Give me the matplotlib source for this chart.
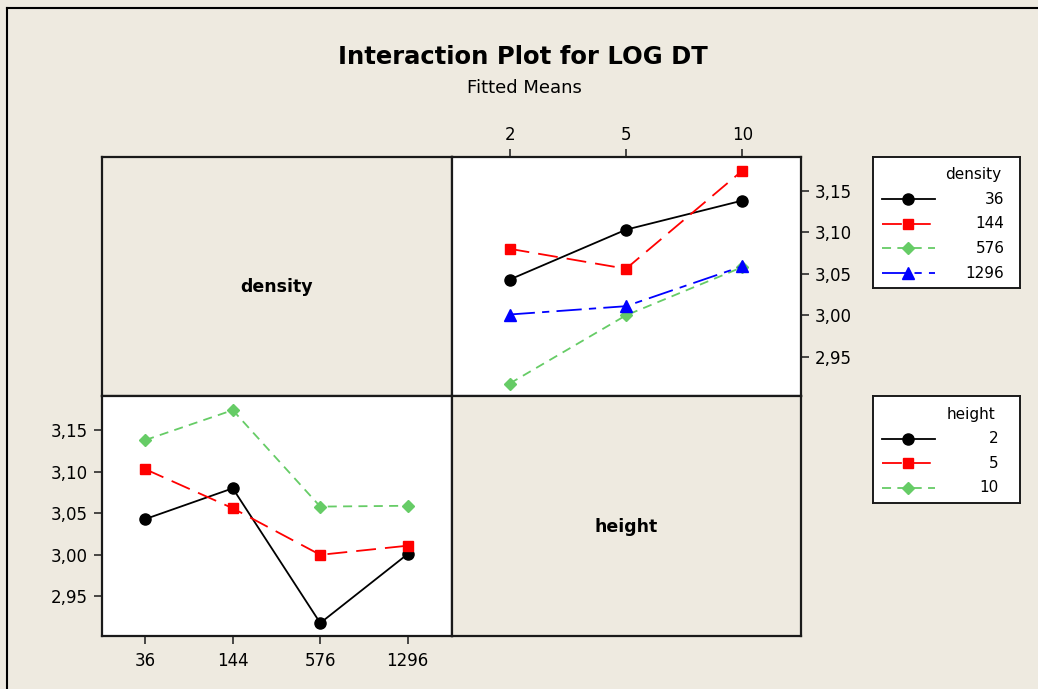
import matplotlib
matplotlib.use("Agg")
import matplotlib.pyplot as plt
from matplotlib.lines import Line2D
from matplotlib.ticker import FixedLocator, FuncFormatter

# fitted means of LOG DT, one list per density, values at height 2, 5, 10
density_levels = ["36", "144", "576", "1296"]
height_levels = ["2", "5", "10"]
fit_36 = [3.043, 3.103, 3.138]
fit_144 = [3.080, 3.056, 3.174]
fit_576 = [2.918, 3.000, 3.058]
fit_1296 = [3.001, 3.011, 3.059]
fitted = [fit_36, fit_144, fit_576, fit_1296]
y_ticks = [2.95, 3.00, 3.05, 3.10, 3.15]

BG = "#EEEAE0"
W, H = 1038, 689

# (color, marker, markersize, linestyle) for level 1..4
styles = [
    ("black", "o", 8, "-"),
    ("#FF0000", "s", 6.5, (0, (11, 5))),
    ("#66CC66", "D", 6.5, (0, (5, 3.5))),
    ("#0000FF", "^", 8, (0, (14, 4, 4, 4))),
]


def fig_box(x0, y0, x1, y1):
    """pixel box (from top-left) -> figure fraction rect"""
    return [x0 / W, 1 - y1 / H, (x1 - x0) / W, (y1 - y0) / H]


def comma(v, pos):
    return f"{v:.2f}".replace(".", ",")


fig = plt.figure(figsize=(W / 100, H / 100), dpi=100, facecolor=BG)

xl, xm, xr = 101.5, 451.5, 800.5
yt, ym, yb = 156.5, 396, 635.5

ax_tl = fig.add_axes(fig_box(xl, yt, xm, ym), facecolor=BG)
ax_tr = fig.add_axes(fig_box(xm, yt, xr, ym), facecolor="white")
ax_bl = fig.add_axes(fig_box(xl, ym, xm, yb), facecolor="white")
ax_br = fig.add_axes(fig_box(xm, ym, xr, yb), facecolor=BG)

for ax in (ax_tl, ax_tr, ax_bl, ax_br):
    for s in ax.spines.values():
        s.set_linewidth(1.6)
        s.set_color("#1a1a1a")
    ax.tick_params(length=6, width=1.1, color="#1a1a1a", labelsize=12,
                   direction="out")

for ax in (ax_tl, ax_br):
    ax.set_xticks([])
    ax.set_yticks([])
ax_tl.text(0.5, 0.455, "density", transform=ax_tl.transAxes, ha="center",
           va="center", fontsize=12.5, fontweight="bold")
ax_br.text(0.5, 0.453, "height", transform=ax_br.transAxes, ha="center",
           va="center", fontsize=12.5, fontweight="bold")

# top right: density lines across height
for vals, (c, m, ms, ls) in zip(fitted, styles):
    ax_tr.plot(range(len(height_levels)), vals, color=c, marker=m,
               markersize=ms, linestyle=ls, linewidth=1.3, zorder=3)
ax_tr.set_xlim(-0.5, len(height_levels) - 0.5)
ax_tr.set_xticks(range(len(height_levels)))
ax_tr.set_xticklabels(height_levels)
ax_tr.xaxis.tick_top()
ax_tr.yaxis.tick_right()
ax_tr.tick_params(axis="x", pad=3)
ax_tr.tick_params(axis="y", pad=4)

# bottom left: height lines across density
for j, (c, m, ms, ls) in enumerate(styles[:len(height_levels)]):
    vals = [row[j] for row in fitted]
    ax_bl.plot(range(len(density_levels)), vals, color=c, marker=m,
               markersize=ms, linestyle=ls, linewidth=1.3, zorder=3)
ax_bl.set_xlim(-0.5, len(density_levels) - 0.5)
ax_bl.set_xticks(range(len(density_levels)))
ax_bl.set_xticklabels(density_levels)
ax_bl.tick_params(axis="x", pad=6)
ax_bl.tick_params(axis="y", pad=4)

for ax in (ax_tr, ax_bl):
    ax.set_ylim(2.903, 3.191)
    ax.yaxis.set_major_locator(FixedLocator(y_ticks))
    ax.yaxis.set_major_formatter(FuncFormatter(comma))


def draw_legend(box, title, labels, right_px):
    x0, y0, x1, y1 = box
    lax = fig.add_axes(fig_box(x0, y0, x1, y1), facecolor="white")
    lax.set_xlim(0, x1 - x0)
    lax.set_ylim(y1 - y0, 0)
    lax.set_xticks([])
    lax.set_yticks([])
    for s in lax.spines.values():
        s.set_linewidth(1.4)
        s.set_color("#1a1a1a")
    lax.text(right_px, 18, title, ha="right", va="center", fontsize=11)
    for i, (lab, (c, m, ms, ls)) in enumerate(zip(labels, styles)):
        yy = 42.5 + i * 24.7
        lax.plot([9, 35.5, 62], [yy] * 3, color=c, marker=m, markersize=ms,
                 linestyle=ls, linewidth=1.3, markevery=[1])
        lax.text(right_px + 3, yy, lab, ha="right", va="center", fontsize=11)


draw_legend((872.5, 156.5, 1019.5, 288.5), "density", density_levels, 129)
draw_legend((872.5, 396, 1019.5, 503), "height", height_levels, 123)

fig.text(523 / W, 1 - 57 / H, "Interaction Plot for LOG DT", ha="center",
         va="center", fontsize=17.5, fontweight="bold")
fig.text(524 / W, 1 - 88 / H, "Fitted Means", ha="center", va="center",
         fontsize=13)

# outer frame (top and left edges only visible)
fig.add_artist(Line2D([6.5 / W, 1], [1 - 8 / H, 1 - 8 / H], color="black",
                      linewidth=1.5))
fig.add_artist(Line2D([6.5 / W, 6.5 / W], [0, 1 - 8 / H], color="black",
                      linewidth=1.5))

fig.savefig("out.png", dpi=100, facecolor=BG)
